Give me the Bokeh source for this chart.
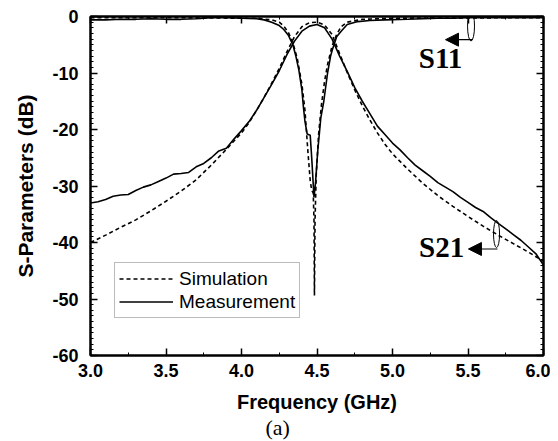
from bokeh.plotting import figure
from bokeh.models import (Range1d, LinearAxis, SingleIntervalTicker, NumeralTickFormatter,
                          Legend, LegendItem, Label, Arrow, NormalHead, CustomLabelingPolicy, Title)
from bokeh.embed import file_html
from bokeh.resources import INLINE

# ---------------- data ----------------
s21_meas_f = [3.00, 3.05, 3.10, 3.15, 3.20, 3.25, 3.30, 3.35, 3.40, 3.45, 3.50, 3.55, 3.60, 3.65,
              3.70, 3.75, 3.80, 3.85, 3.90, 3.95, 4.00, 4.05, 4.10, 4.15, 4.20, 4.25, 4.30, 4.35,
              4.40, 4.45, 4.50, 4.55, 4.60, 4.65, 4.70, 4.75, 4.80, 4.85, 4.90, 4.95, 5.00, 5.05,
              5.10, 5.15, 5.20, 5.25, 5.30, 5.35, 5.40, 5.45, 5.50, 5.55, 5.60, 5.65, 5.70, 5.75,
              5.80, 5.85, 5.90, 5.95, 6.00]
s21_meas_db = [-33.0, -32.8, -32.4, -31.8, -31.6, -31.5, -30.8, -30.2, -29.8, -29.2, -28.6, -27.9,
               -27.8, -27.6, -26.6, -26.0, -25.0, -23.8, -23.3, -21.7, -20.2, -18.6, -16.6, -14.3,
               -12.0, -9.6, -6.8, -4.4, -2.6, -1.7, -1.4, -2.0, -4.0, -7.0, -9.7, -12.6, -15.0,
               -17.2, -19.4, -20.9, -22.4, -23.6, -25.0, -26.3, -27.3, -28.3, -29.4, -30.2, -31.0,
               -32.0, -32.9, -33.8, -34.5, -35.6, -36.6, -37.6, -38.6, -39.6, -40.8, -42.0, -44.0]

s21_sim_f = [3.00, 3.10, 3.20, 3.30, 3.40, 3.50, 3.60, 3.70, 3.80, 3.90, 4.00, 4.05, 4.10, 4.15,
             4.20, 4.25, 4.30, 4.35, 4.40, 4.45, 4.50, 4.55, 4.60, 4.65, 4.70, 4.75, 4.80, 4.85,
             4.90, 4.95, 5.00, 5.10, 5.20, 5.30, 5.40, 5.50, 5.60, 5.70, 5.80, 5.90, 6.00]
s21_sim_db = [-40.0, -38.7, -37.3, -36.0, -34.4, -32.7, -30.9, -28.9, -26.3, -23.5, -20.6, -18.8,
              -16.6, -14.3, -11.8, -9.2, -6.3, -3.6, -1.8, -1.1, -1.0, -1.5, -3.2, -6.6, -9.9,
              -13.0, -15.8, -18.3, -20.6, -22.6, -24.3, -27.0, -29.5, -31.7, -33.6, -35.4, -37.1,
              -38.7, -40.2, -41.7, -43.3]

s11_meas_f = [3.00, 3.10, 3.20, 3.30, 3.40, 3.50, 3.60, 3.70, 3.80, 3.90, 4.00, 4.10, 4.15, 4.20,
              4.25, 4.28, 4.31, 4.34, 4.36, 4.38, 4.40, 4.41, 4.42, 4.435, 4.455, 4.465, 4.48,
              4.49, 4.505, 4.525, 4.545, 4.57, 4.59, 4.605, 4.63, 4.66, 4.70, 4.77, 4.85, 4.95,
              5.10, 5.20, 5.30, 5.40, 5.50, 5.60, 5.80, 6.00]
s11_meas_db = [-0.6, -0.6, -0.5, -0.5, -0.4, -0.5, -0.5, -0.4, -0.2, -0.2, -0.3, -0.4, -0.6, -1.0,
               -1.6, -2.3, -3.3, -5.0, -7.0, -9.5, -13.0, -16.0, -18.5, -20.8, -21.0, -25.0, -32.0,
               -29.5, -23.8, -18.0, -15.0, -10.0, -7.0, -5.6, -3.6, -2.6, -1.4, -0.9, -0.7, -0.6,
               -0.5, -0.4, -0.3, -0.3, -0.2, -0.2, -0.2, -0.2]

s11_sim_f = [3.00, 3.50, 4.00, 4.10, 4.20, 4.25, 4.28, 4.31, 4.34, 4.37, 4.40, 4.42, 4.44, 4.455,
             4.465, 4.475, 4.48, 4.483, 4.487, 4.495, 4.51, 4.53, 4.55, 4.57, 4.60, 4.63, 4.66,
             4.70, 4.80, 5.00, 6.00]
s11_sim_db = [-0.2, -0.2, -0.3, -0.3, -0.6, -1.0, -1.7, -2.8, -4.6, -7.5, -12.0, -16.5, -24.0,
              -29.0, -30.8, -31.2, -36.0, -49.4, -36.0, -28.0, -21.0, -15.5, -11.5, -8.5, -5.2,
              -3.2, -1.8, -1.0, -0.5, -0.3, -0.2]

x_ticks_interval = 0.5
y_ticks_interval = 10
legend_labels = ["Simulation", "Measurement"]

SANS = "Liberation Sans"
SERIF = "Liberation Serif"

p = figure(width=550, height=441, output_backend="svg", toolbar_location=None,
           x_range=Range1d(3.0, 6.0), y_range=Range1d(-60, 0),
           min_border_left=90, min_border_right=7, min_border_top=16, min_border_bottom=86,
           background_fill_color="white", border_fill_color="white")
p.grid.visible = False
p.outline_line_color = "black"
p.outline_line_width = 2


def style_axis(ax):
    ax.axis_line_width = 2
    ax.axis_line_color = "black"
    ax.major_tick_in = 7
    ax.major_tick_out = 0
    ax.minor_tick_in = 3
    ax.minor_tick_out = 0
    ax.major_tick_line_width = 1.5
    ax.minor_tick_line_width = 1
    ax.major_label_text_font = SANS
    ax.major_label_text_font_style = "bold"
    ax.major_label_text_color = "black"
    ax.axis_label_text_font = SANS
    ax.axis_label_text_font_style = "bold"
    ax.axis_label_text_color = "black"


xa = p.xaxis[0]
xa.ticker = SingleIntervalTicker(interval=x_ticks_interval, num_minor_ticks=2)
xa.formatter = NumeralTickFormatter(format="0.0")
style_axis(xa)
xa.major_label_text_font_size = "18px"
xa.major_label_standoff = 8
xa.axis_label = "Frequency (GHz)"
xa.axis_label_text_font_size = "20px"
xa.axis_label_standoff = 11

ya = p.yaxis[0]
ya.ticker = SingleIntervalTicker(interval=y_ticks_interval, num_minor_ticks=10)
ya.formatter = NumeralTickFormatter(format="0")
style_axis(ya)
ya.major_label_text_font_size = "18px"
ya.major_label_standoff = 12
ya.axis_label = "S-Parameters (dB)"
ya.axis_label_text_font_size = "21px"
ya.axis_label_standoff = 12

# frame ticks on top and right, without labels
top = LinearAxis(ticker=SingleIntervalTicker(interval=x_ticks_interval, num_minor_ticks=2),
                 major_label_policy=CustomLabelingPolicy(code="return []"))
style_axis(top)
top.major_label_text_font_size = "0px"
top.major_label_standoff = 0
p.add_layout(top, "above")

right = LinearAxis(ticker=SingleIntervalTicker(interval=y_ticks_interval, num_minor_ticks=10),
                   major_label_policy=CustomLabelingPolicy(code="return []"))
style_axis(right)
right.major_label_text_font_size = "0px"
right.major_label_standoff = 0
p.add_layout(right, "right")

# caption under the x axis
p.add_layout(Title(text="(a)", align="left", offset=175, standoff=-6,
                   text_font=SERIF, text_font_style="normal", text_font_size="22px",
                   text_color="black"), "below")

# ---------------- curves ----------------
sim21 = p.line(s21_sim_f, s21_sim_db, line_color="black", line_width=1.6, line_dash="4 3")
sim11 = p.line(s11_sim_f, s11_sim_db, line_color="black", line_width=1.6, line_dash="4 3")
meas21 = p.line(s21_meas_f, s21_meas_db, line_color="black", line_width=1.6)
meas11 = p.line(s11_meas_f, s11_meas_db, line_color="black", line_width=1.6)

legend = Legend(items=[LegendItem(label=legend_labels[0], renderers=[sim21]),
                       LegendItem(label=legend_labels[1], renderers=[meas21])],
                location=(24, 37), orientation="vertical",
                label_text_font=SANS, label_text_font_size="19px", label_text_color="black",
                glyph_width=54, glyph_height=23, label_height=23, label_standoff=6,
                padding=4, spacing=0, margin=0,
                border_line_color="#777777", border_line_width=1.5,
                background_fill_color="white", background_fill_alpha=1)
p.add_layout(legend, "center")

# ---------------- annotations ----------------
p.ellipse(x=[5.52], y=[-1.7], width=[0.046], height=[5.3], fill_color=None,
          line_color="black", line_width=1)
p.add_layout(Arrow(end=NormalHead(size=13, fill_color="black", line_color="black"),
                   x_start=5.53, y_start=-4.1, x_end=5.351, y_end=-4.1,
                   line_color="black", line_width=1.2))
p.add_layout(Label(x=5.318, y=-7.35, text="S11", text_font=SERIF, text_font_style="bold",
                   text_font_size="29px", text_align="center", text_baseline="middle",
                   text_color="black"))

p.ellipse(x=[5.689], y=[-38.5], width=[0.04], height=[4.8], fill_color=None,
          line_color="black", line_width=1)
p.add_layout(Arrow(end=NormalHead(size=13, fill_color="black", line_color="black"),
                   x_start=5.695, y_start=-41.15, x_end=5.503, y_end=-41.15,
                   line_color="black", line_width=1.2))
p.add_layout(Label(x=5.325, y=-40.8, text="S21", text_font=SERIF, text_font_style="bold",
                   text_font_size="29px", text_align="center", text_baseline="middle",
                   text_color="black"))

open("out.html", "w").write(file_html(p, INLINE))
